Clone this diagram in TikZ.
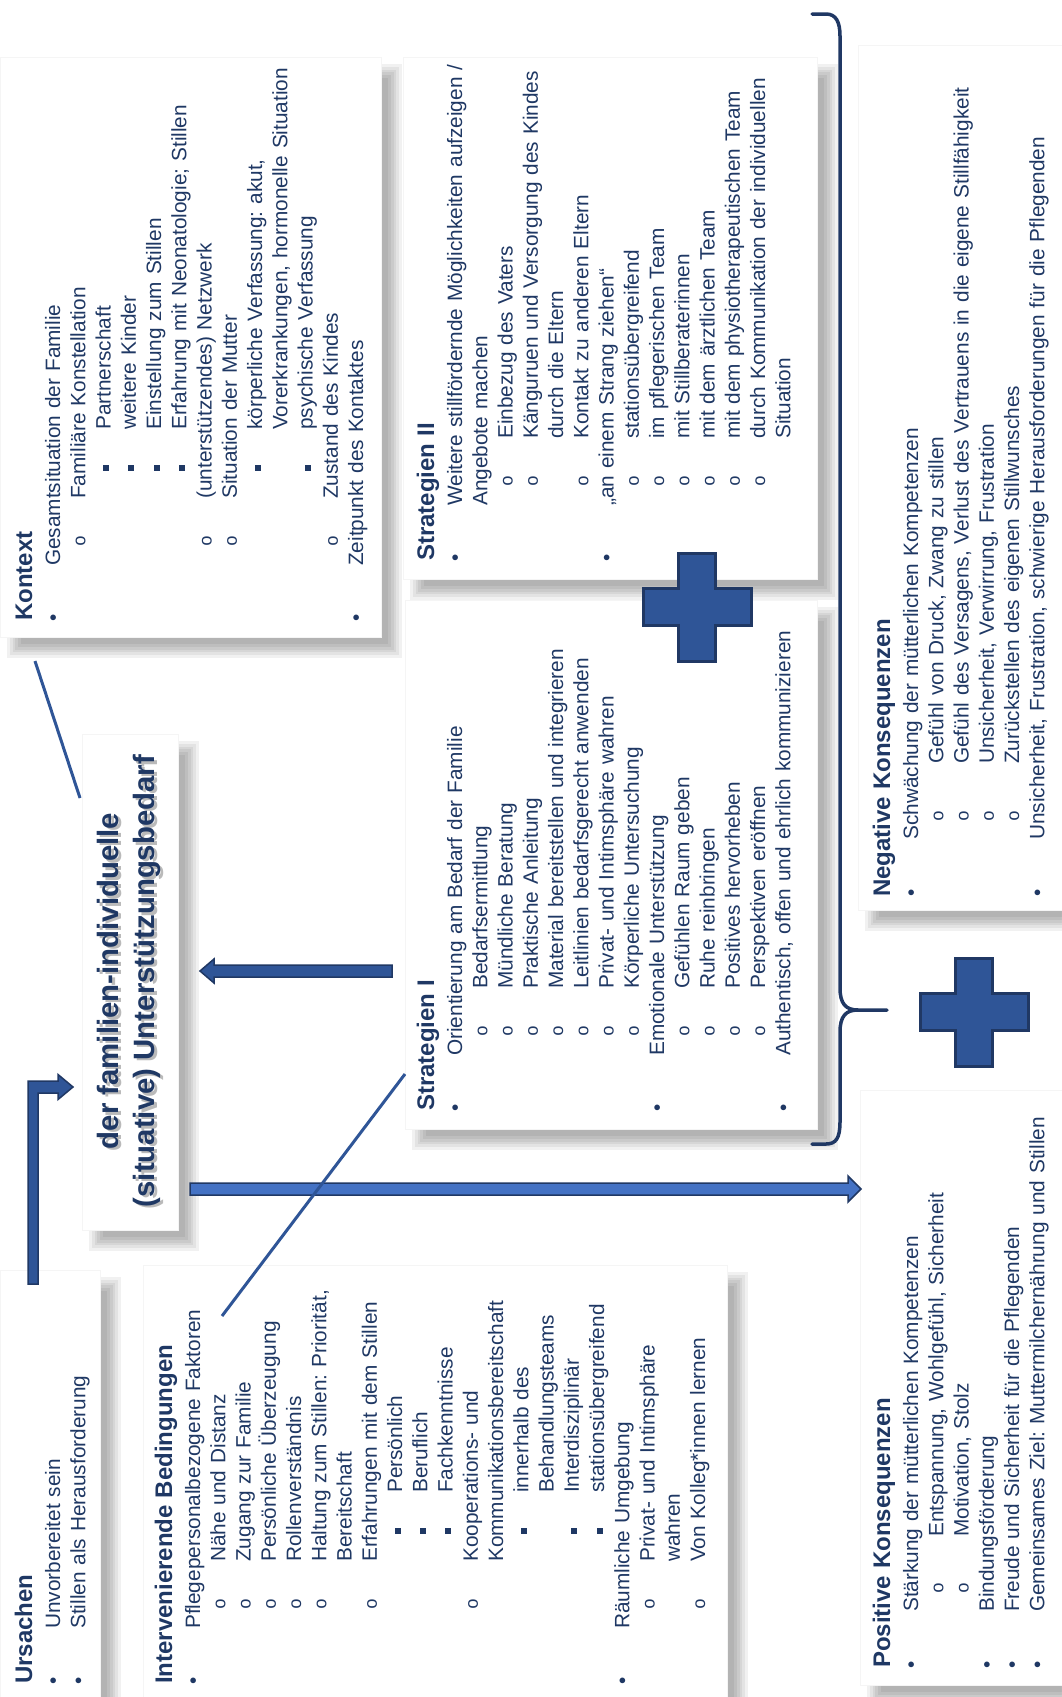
\documentclass[tikz,border=0pt]{standalone}
\usepackage{fontspec}
\setmainfont{Liberation Sans}
\newfontfamily\monofont{Liberation Mono}
\usetikzlibrary{calc}
\setlength\parskip{0pt}
\frenchspacing
\definecolor{navy}{RGB}{31,56,100}
\definecolor{midblue}{RGB}{47,85,151}
\definecolor{lightblue}{RGB}{68,114,196}
\definecolor{darkline}{RGB}{32,56,100}

\newcommand\bulA{\textbullet}
\newcommand\bulB{{\fontsize{18}{18}\selectfont\monofont o}}
\newcommand\bulC{\raisebox{1.5pt}{\rule{6pt}{6pt}}}
\def\oA{3pt}\def\tA{55pt}\def\oB{80pt}\def\tB{122pt}\def\oC{153pt}\def\tC{191pt}
\newcommand\entry[4]{\noindent\rlap{\hspace*{#1}\makebox[0pt]{#2}}\hspace*{#3}#4\par}
\newcommand\Ia[1]{\entry{\oA}{\bulA}{\tA}{#1}}
\newcommand\Ic[1]{\entry{0pt}{}{\tA}{#1}}
\newcommand\IIa[1]{\entry{\oB}{\bulB}{\tB}{#1}}
\newcommand\IIc[1]{\entry{0pt}{}{\tB}{#1}}
\newcommand\IIIa[1]{\entry{\oC}{\bulC}{\tC}{#1}}
\newcommand\IIIc[1]{\entry{0pt}{}{\tC}{#1}}
\newcommand\Head[1]{\noindent\rule{0pt}{18pt}{\fontsize{24}{28}\selectfont\bfseries #1}\par\vspace{2.75pt}}

\newcommand\softshadow[4]{\foreach \e in {-7,-4.2,-1.4,1.4,4.2,7}{\fill[black,opacity=0.055] ({#1+14-\e},{#2+14-\e}) rectangle ({#3+14+\e},{#4+14+\e});}}
\newcommand\harrow[6]{\path[#1] let \p1=(#2), \p2=(#3) in ({\x1},{\y1+#4}) -- ({\x2-1*(#6)},{\y1+#4}) -- ({\x2-1*(#6)},{\y1+#5}) -- ({\x2},{\y1}) -- ({\x2-1*(#6)},{\y1-#5}) -- ({\x2-1*(#6)},{\y1-#4}) -- ({\x1},{\y1-#4}) -- cycle;}
\newcommand\plussign[1]{\path[plusstyle] let \p1=(#1) in ({\x1-18.5pt},{\y1+54pt}) -- ({\x1+18.5pt},{\y1+54pt}) -- ({\x1+18.5pt},{\y1+18.5pt}) -- ({\x1+54pt},{\y1+18.5pt}) -- ({\x1+54pt},{\y1-18.5pt}) -- ({\x1+18.5pt},{\y1-18.5pt}) -- ({\x1+18.5pt},{\y1-54pt}) -- ({\x1-18.5pt},{\y1-54pt}) -- ({\x1-18.5pt},{\y1-18.5pt}) -- ({\x1-54pt},{\y1-18.5pt}) -- ({\x1-54pt},{\y1+18.5pt}) -- ({\x1-18.5pt},{\y1+18.5pt}) -- cycle;}

\tikzset{
  boxtext/.style={rotate=90, anchor=north west, inner sep=0pt, text width=900pt, align=left, text=navy, font=\fontsize{20.8}{25.25}\selectfont},
  whitebox/.style={fill=white, draw=black!4, line width=0.4pt},
  thickarrow/.style={fill=midblue, draw=darkline, line width=1.5pt, line join=miter},
  longarrow/.style={fill=lightblue, draw=darkline, line width=1.5pt, line join=miter},
  plusstyle/.style={fill=midblue, draw=darkline, line width=3pt, line join=miter},
  thinline/.style={draw=midblue, line width=3pt},
  bracestyle/.style={draw=darkline, line width=3.5pt, line cap=round}
}

\begin{document}
\begin{tikzpicture}[x=1pt,y=-1pt]
\path[use as bounding box, fill=white] (0,0) rectangle (1061,1697);

% shadows
\softshadow{0}{57}{381}{637}
\softshadow{403}{57}{817}{579}
\softshadow{405}{600}{817}{1129}
\softshadow{82}{734}{178}{1230}
\softshadow{0}{1270}{100}{1720}
\softshadow{143}{1265}{727}{1720}
\softshadow{858}{45}{1080}{910}
\softshadow{860}{1090}{1080}{1685}

% boxes
\path[whitebox] (0,57) rectangle (381,637);
\path[whitebox] (403,57) rectangle (817,579);
\path[whitebox] (405,600) rectangle (817,1129);
\path[whitebox] (82,734) rectangle (178,1230);
\path[whitebox] (0,1270) rectangle (100,1720);
\path[whitebox] (143,1265) rectangle (727,1720);
\path[whitebox] (858,45) rectangle (1080,910);
\path[whitebox] (860,1090) rectangle (1080,1685);

% central text
\node[rotate=90, align=center, text=black!45, opacity=0.6, font=\fontsize{29.4}{36}\selectfont\bfseries] (centralshadow) at (131.5,983.5) {der familien-individuelle\\(situative) Unterstützungsbedarf};
\node[rotate=90, align=center, text=navy, font=\fontsize{29.4}{36}\selectfont\bfseries] (central) at (129,981) {der familien-individuelle\\(situative) Unterstützungsbedarf};

% Kontext
\node[boxtext] (kontext) at (14,621) {\Head{Kontext}
\Ia{Gesamtsituation der Familie}
\IIa{Familiäre Konstellation}
\IIIa{Partnerschaft}
\IIIa{weitere Kinder}
\IIIa{Einstellung zum Stillen}
\IIIa{Erfahrung mit Neonatologie; Stillen}
\IIa{(unterstützendes) Netzwerk}
\IIa{Situation der Mutter}
\IIIa{körperliche Verfassung: akut,}
\IIIc{Vorerkrankungen, hormonelle Situation}
\IIIa{psychische Verfassung}
\IIa{Zustand des Kindes}
\Ia{Zeitpunkt des Kontaktes}};

% Strategien II
\node[boxtext] (strat2) at (416,561) {\Head{Strategien II}
\Ia{Weitere stillfördernde Möglichkeiten aufzeigen /}
\Ic{Angebote machen}
\IIa{Einbezug des Vaters}
\IIa{Känguruen und Versorgung des Kindes}
\IIc{durch die Eltern}
\IIa{Kontakt zu anderen Eltern}
\Ia{„an einem Strang ziehen“}
\IIa{stationsübergreifend}
\IIa{im pflegerischen Team}
\IIa{mit Stillberaterinnen}
\IIa{mit dem ärztlichen Team}
\IIa{mit dem physiotherapeutischen Team}
\IIa{durch Kommunikation der individuellen}
\IIc{Situation}};

% Strategien I
\node[boxtext] (strat1) at (416,1111) {\Head{Strategien I}
\Ia{Orientierung am Bedarf der Familie}
\IIa{Bedarfsermittlung}
\IIa{Mündliche Beratung}
\IIa{Praktische Anleitung}
\IIa{Material bereitstellen und integrieren}
\IIa{Leitlinien bedarfsgerecht anwenden}
\IIa{Privat- und Intimsphäre wahren}
\IIa{Körperliche Untersuchung}
\Ia{Emotionale Unterstützung}
\IIa{Gefühlen Raum geben}
\IIa{Ruhe reinbringen}
\IIa{Positives hervorheben}
\IIa{Perspektiven eröffnen}
\Ia{Authentisch, offen und ehrlich kommunizieren}};

% Ursachen
\node[boxtext] (ursachen) at (14,1684) {\Head{Ursachen}
\Ia{Unvorbereitet sein}
\Ia{Stillen als Herausforderung}};

% Intervenierende Bedingungen
\node[boxtext] (interv) at (154,1684) {\Head{Intervenierende Bedingungen}
\Ia{Pflegepersonalbezogene Faktoren}
\IIa{Nähe und Distanz}
\IIa{Zugang zur Familie}
\IIa{Persönliche Überzeugung}
\IIa{Rollenverständnis}
\IIa{Haltung zum Stillen: Priorität,}
\IIc{Bereitschaft}
\IIa{Erfahrungen mit dem Stillen}
\IIIa{Persönlich}
\IIIa{Beruflich}
\IIIa{Fachkenntnisse}
\IIa{Kooperations- und}
\IIc{Kommunikationsbereitschaft}
\IIIa{innerhalb des}
\IIIc{Behandlungsteams}
\IIIa{Interdisziplinär}
\IIIa{stationsübergreifend}
\Ia{Räumliche Umgebung}
\IIa{Privat- und Intimsphäre}
\IIc{wahren}
\IIa{Von Kolleg*innen lernen}};

% Negative Konsequenzen
\node[boxtext] (negativ) at (872,897) {\def\oA{4pt}\def\tA{57pt}\def\oB{81pt}\def\tB{133pt}%
\Head{Negative Konsequenzen}
\Ia{Schwächung der mütterlichen Kompetenzen}
\IIa{Gefühl von Druck, Zwang zu stillen}
\IIa{Gefühl des Versagens, Verlust des Vertrauens in die eigene Stillfähigkeit}
\IIa{Unsicherheit, Verwirrung, Frustration}
\IIa{Zurückstellen des eigenen Stillwunsches}
\Ia{Unsicherheit, Frustration, schwierige Herausforderungen für die Pflegenden}};

% Positive Konsequenzen
\node[boxtext] (positiv) at (872,1668) {\def\oA{3pt}\def\tA{56pt}\def\oB{80pt}\def\tB{131pt}%
\Head{Positive Konsequenzen}
\Ia{Stärkung der mütterlichen Kompetenzen}
\IIa{Entspannung, Wohlgefühl, Sicherheit}
\IIa{Motivation, Stolz}
\Ia{Bindungsförderung}
\Ia{Freude und Sicherheit für die Pflegenden}
\Ia{Gemeinsames Ziel: Muttermilchernährung und Stillen}};

% connector coordinates
\coordinate (ua) at (33,1284);
\coordinate (ub) at (73,1087);
\coordinate (la1) at (392,971);
\coordinate (la2) at (200,971);
\coordinate (ra1) at (190,1189);
\coordinate (ra2) at (861,1189);
\coordinate (kx) at (35,661);
\coordinate (cx) at (80,798);
\coordinate (s1x) at (405,1074);
\coordinate (ix) at (222,1316);
\coordinate (plusA) at (697,607);
\coordinate (plusB) at (974,1012);

% elbow arrow Ursachen -> central
\path[thickarrow] let \p1=(ua), \p2=(ub) in ({\x1-5pt},{\y1}) -- ({\x1-5pt},{\y2+6pt}) -- ({\x2-15pt},{\y2+6pt}) -- ({\x2-15pt},{\y2+12.5pt}) -- ({\x2},{\y2}) -- ({\x2-15pt},{\y2-12.5pt}) -- ({\x2-15pt},{\y2-6pt}) -- ({\x1+5pt},{\y2-6pt}) -- ({\x1+5pt},{\y1}) -- cycle;

% arrow Strategien I -> central
\harrow{thickarrow}{la1}{la2}{6pt}{12pt}{-14pt}
% long arrow central -> Positive Konsequenzen
\harrow{longarrow}{ra1}{ra2}{6pt}{13pt}{13pt}

% plus signs
\plussign{plusA}
\plussign{plusB}

% brace
\draw[bracestyle] (812,14) -- (826,14) .. controls (836,14) and (840,22) .. (840,36) -- (840,988) .. controls (840,1004) and (846,1010) .. (858,1010) -- (887,1010);
\draw[bracestyle] (858,1010) .. controls (846,1010) and (840,1016) .. (840,1032) -- (840,1122) .. controls (840,1138) and (836,1144) .. (826,1144) -- (812,1144);

% thin connectors
\draw[thinline] (kx) -- (cx);
\draw[thinline] (s1x) -- (ix);
\end{tikzpicture}
\end{document}
